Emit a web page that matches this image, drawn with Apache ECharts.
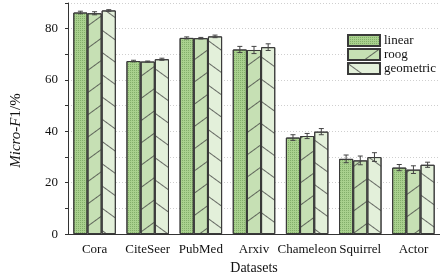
<!DOCTYPE html>
<html>
<head>
<meta charset="utf-8">
<script src="https://cdn.jsdelivr.net/npm/echarts@6/dist/echarts.min.js"></script>
<style>
  html, body { margin: 0; padding: 0; background: #fff; }
  #chart { width: 440px; height: 280px; }
</style>
</head>
<body>
<div id="chart"></div>
<script>
// Data
const datasets = ['Cora', 'CiteSeer', 'PubMed', 'Arxiv', 'Chameleon', 'Squirrel', 'Actor'];
const methods = ['linear', 'roog', 'geometric'];

const linearMean = [86.3, 67.4, 76.4, 71.9, 37.6, 29.3, 25.9];
const linearErr  = [0.5, 0.3, 0.4, 1.2, 1.1, 1.5, 1.2];
const roogMean   = [86.0, 67.2, 76.3, 71.7, 38.2, 28.7, 25.1];
const roogErr    = [0.6, 0.2, 0.3, 1.4, 1.0, 1.7, 1.5];
const geoMean    = [87.1, 68.1, 77.0, 72.8, 39.9, 30.0, 27.0];
const geoErr     = [0.3, 0.4, 0.5, 1.3, 1.2, 1.7, 1.0];

const yTicks = [0, 20, 40, 60, 80];

const serif = '"Liberation Serif", "DejaVu Serif", serif';
const fills = ['#a9d18e', '#c6e0b4', '#e3f0da'];
const decals = [
    { symbol: 'rect', symbolSize: 1, dashArrayX: [1, 1], dashArrayY: [1, 1], color: 'rgba(60,110,40,0.35)' },
    { symbol: 'rect', symbolSize: 1, dashArrayX: [1, 0], dashArrayY: [1, 17], rotation: -Math.PI / 5, color: 'rgba(60,60,60,0.75)' },
    { symbol: 'rect', symbolSize: 1, dashArrayX: [1, 0], dashArrayY: [1, 17], rotation: Math.PI / 5, color: 'rgba(60,60,60,0.75)' }
];

const means = [linearMean, roogMean, geoMean];
const errs = [linearErr, roogErr, geoErr];

// rows for the error bar series: [category, mean, err, methodIndex]
const errRows = [];
means.forEach((arr, k) => {
    arr.forEach((v, i) => errRows.push([i, v, errs[k][i], k]));
});

const chart = echarts.init(document.getElementById('chart'));

const barSeries = methods.map((name, k) => ({
    name: name,
    type: 'bar',
    data: means[k],
    barGap: '0%',
    barCategoryGap: '20%',
    itemStyle: {
        color: fills[k],
        borderColor: '#3a3a3a',
        borderWidth: 1,
        decal: decals[k]
    },
    emphasis: { disabled: true }
}));

const option = {
    animation: false,
    grid: { left: 68, right: -4, top: 3, bottom: 44 },
    legend: {
        data: methods,
        icon: 'rect',
        orient: 'vertical',
        left: 345,
        top: 33,
        itemWidth: 32,
        itemHeight: 11,
        itemGap: 1,
        padding: [1, 4, 1, 2],
        backgroundColor: '#fff',
        textStyle: { fontFamily: serif, fontSize: 13, lineHeight: 12, color: '#111', padding: [0, 0, 0, -1] }
    },
    xAxis: [
        {
            type: 'category',
            data: datasets,
            name: 'Datasets',
            nameLocation: 'middle',
            nameGap: 26,
            nameTextStyle: { fontFamily: serif, fontSize: 14, color: '#111' },
            axisLine: { lineStyle: { color: '#333', width: 1 } },
            axisTick: { alignWithLabel: true, length: 4, lineStyle: { color: '#333' } },
            axisLabel: { interval: 0, fontFamily: serif, fontSize: 13, color: '#111', margin: 9 }
        },
        {
            type: 'category',
            data: datasets,
            position: 'bottom',
            axisLine: { show: false },
            axisTick: { length: 3, lineStyle: { color: '#555' } },
            axisLabel: { show: false }
        }
    ],
    yAxis: {
        type: 'value',
        min: 0,
        max: 90,
        interval: 10,
        name: '{i|Micro-F}{n|1/%}',
        nameLocation: 'middle',
        nameGap: 44,
        nameTextStyle: {
            padding: [0, 0, 0, -24],
            rich: {
                i: { fontFamily: serif, fontSize: 15, fontStyle: 'italic', color: '#111' },
                n: { fontFamily: serif, fontSize: 15, color: '#111' }
            }
        },
        axisLine: { show: true, lineStyle: { color: '#333', width: 1 } },
        axisTick: { show: true, length: 3, lineStyle: { color: '#333' } },
        axisLabel: {
            fontFamily: serif, fontSize: 13, color: '#111', margin: 10,
            formatter: v => (yTicks.includes(v) ? String(v) : '')
        },
        splitLine: { lineStyle: { color: '#cfcfcf', type: [1, 2], width: 1 } }
    },
    series: barSeries.concat([{
        type: 'custom',
        data: errRows,
        z: 10,
        silent: true,
        renderItem: function (params, api) {
            const cat = api.value(0);
            const m = api.value(1);
            const e = api.value(2);
            const k = api.value(3);
            const band = api.size([1, 0])[0];
            const w = band * 0.8 / 3;
            const dx = (k - 1) * w;
            const top = api.coord([cat, m + e]);
            const bot = api.coord([cat, m - e]);
            const x = top[0] + dx;
            const cap = 2.5;
            const style = { stroke: '#444', lineWidth: 1, fill: null };
            return {
                type: 'group',
                children: [
                    { type: 'line', shape: { x1: x, y1: top[1], x2: x, y2: bot[1] }, style: style },
                    { type: 'line', shape: { x1: x - cap, y1: top[1], x2: x + cap, y2: top[1] }, style: style },
                    { type: 'line', shape: { x1: x - cap, y1: bot[1], x2: x + cap, y2: bot[1] }, style: style }
                ]
            };
        }
    }])
};

chart.setOption(option);
</script>
</body>
</html>
